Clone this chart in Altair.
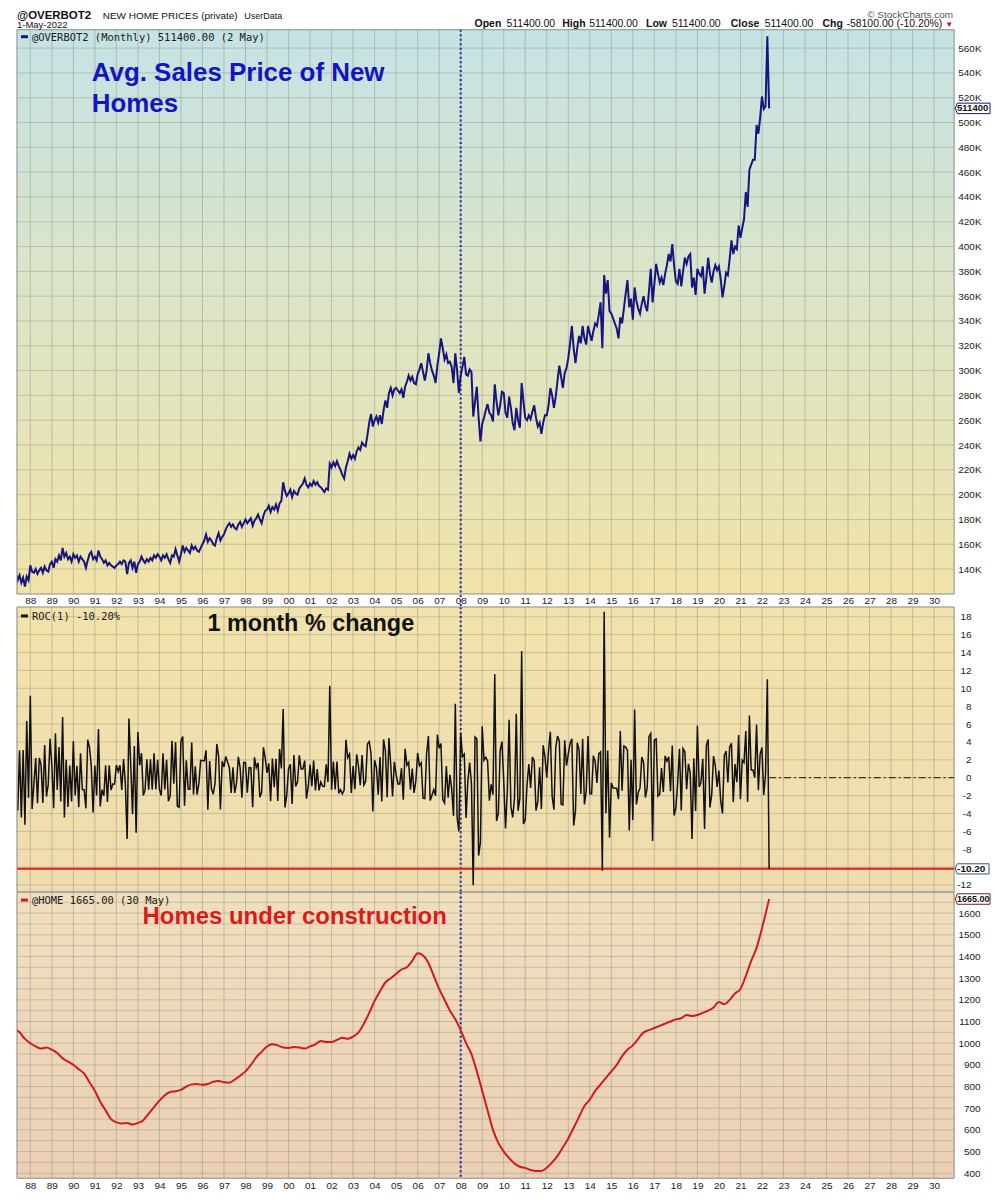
import altair as alt
import pandas as pd

# ------------------------------------------------------------------ data
# Average sales price of new homes, monthly, in thousands of $ (May 1987 .. May 2022)
price_start = 1987 + 4 / 12
price_1987_1989 = [
    136, 131, 135, 129, 133, 126, 134, 131,
    143, 138, 137, 140, 136, 139, 141, 137, 142, 139, 138, 144,
    146, 141, 148, 146, 151, 147, 157, 150, 153, 148, 150, 146,
]
price_1990s = [
    152, 149, 151, 146, 150, 148, 146, 141, 147, 152, 154, 148,
    150, 147, 155, 150, 148, 145, 147, 143, 145, 143, 142, 141,
    143, 144, 146, 144, 147, 146, 136, 145, 147, 141, 146, 137,
    144, 146, 150, 147, 145, 148, 146, 149, 147, 151, 149, 152,
    150, 147, 151, 149, 152, 148, 145, 151, 150, 156, 151, 146,
    152, 159, 154, 157, 155, 153, 159, 156, 158, 155, 154, 157,
    160, 163, 168, 162, 165, 163, 160, 159, 165, 169, 163, 166,
    168, 172, 175, 177, 174, 176, 173, 172, 176, 178, 174, 177,
    180, 177, 179, 181, 175, 179, 181, 184, 180, 177, 183, 187,
    188, 191, 186, 190, 188, 192, 187, 193, 195, 210, 203, 199,
]
price_2000s = [
    201, 204, 198, 203, 201, 200, 205, 207, 209, 213, 208, 206,
    209, 207, 211, 208, 210, 207, 206, 204, 202, 205, 204, 225,
    222, 226, 223, 227, 223, 220, 216, 213, 222, 227, 233, 229,
    232, 229, 235, 238, 236, 242, 240, 239, 248, 258, 265, 255,
    260, 263, 258, 264, 257, 268, 276, 270, 282, 286, 280, 285,
    286, 284, 282, 285, 278, 287, 291, 296, 292, 295, 290, 289,
    297, 301, 306, 299, 292, 300, 314, 306, 300, 296, 290, 304,
    314, 326, 318, 309, 313, 306, 307, 303, 290, 314, 300, 282,
    296, 303, 311, 297, 296, 301, 299, 263, 275, 287, 262, 243,
    257, 262, 268, 273, 266, 264, 259, 289, 275, 264, 272, 283,
]
price_2010s = [
    282, 266, 262, 279, 270, 258, 252, 270, 260, 254, 290, 275,
    262, 260, 264, 261, 267, 272, 262, 255, 258, 249, 258, 264,
    264, 272, 286, 280, 270, 279, 292, 304, 295, 286, 298, 302,
    310, 322, 336, 318, 306, 318, 328, 322, 336, 326, 321, 336,
    330, 324, 332, 338, 336, 345, 355, 318, 377, 362, 373, 348,
    346, 342, 338, 334, 326, 343, 338, 350, 362, 373, 351, 358,
    341, 367, 356, 350, 346, 354, 360, 352, 348, 364, 382, 355,
    370, 386, 378, 371, 375, 369, 378, 385, 394, 388, 402, 385,
    372, 370, 382, 368, 380, 391, 386, 392, 394, 367, 375, 361,
    382, 378, 376, 384, 362, 375, 391, 378, 371, 380, 385, 381,
]
price_2020s = [
    384, 374, 359, 368, 379, 377, 390, 405, 394, 400, 398, 417,
    407, 415, 422, 444, 432, 462, 466, 470, 470, 498, 491, 504,
    521, 511, 513, 569.5, 511.4,
]

# Homes under construction (thousands), quarterly from Apr 1987, plus May 2022
home_start = 1987.25
home_1987_1989 = [1065, 1050, 1020, 1000, 985, 975, 980, 970, 955, 930, 915]
home_1990s = [
    900, 880, 860, 820, 780, 730, 690, 650, 635, 630, 632, 625,
    632, 645, 675, 705, 735, 760, 775, 778, 785, 800, 810, 812,
    808, 812, 822, 826, 820, 818, 832, 850, 870, 900, 935, 960,
    985, 995, 990, 980,
]
home_2000s = [
    978, 982, 980, 975, 985, 995, 1010, 1005, 1005, 1015, 1025, 1020,
    1030, 1050, 1090, 1140, 1195, 1240, 1280, 1300, 1320, 1340, 1350, 1380,
    1415, 1405, 1370, 1310, 1250, 1200, 1150, 1110, 1060, 1000, 950, 870,
    780, 690, 600, 540,
]
home_2010s = [
    500, 470, 445, 430, 425, 415, 410, 410, 425, 450, 480, 520,
    560, 610, 660, 710, 740, 780, 810, 840, 870, 900, 940, 970,
    990, 1020, 1050, 1060, 1070, 1080, 1090, 1100, 1110, 1115, 1130, 1125,
    1130, 1140, 1150, 1165,
]
home_2020s = [1190, 1180, 1200, 1230, 1250, 1310, 1380, 1440, 1530, 1630]
home_last_t = [2022 + 4 / 12]
home_last = [1665]

year_ticks = list(range(1988, 2031))
price_ticks = list(range(140, 561, 20))
roc_grid = list(range(-12, 19, 2))
roc_ticks = [-12, -8, -6, -4, -2, 0, 2, 4, 6, 8, 10, 12, 14, 16, 18]
home_grid = list(range(400, 1651, 50))
home_ticks = list(range(400, 1601, 100))
marker_year = [2008]
roc_alert = [-10.2]
x_domain = [1987.38, 2030.93]

# ------------------------------------------------------------------ frames
prices = price_1987_1989 + price_1990s + price_2000s + price_2010s + price_2020s
price_df = pd.DataFrame({"t": [price_start + i / 12 for i in range(len(prices))], "price": prices})
roc_df = price_df.assign(roc=price_df["price"].pct_change() * 100).dropna()
home_q = home_1987_1989 + home_1990s + home_2000s + home_2010s + home_2020s
home_df = pd.DataFrame({
    "t": [home_start + 0.25 * i for i in range(len(home_q))] + home_last_t,
    "home": home_q + home_last,
})
last_price = pd.DataFrame({"v": [prices[-1]]})
last_roc = pd.DataFrame({"v": [round(float(roc_df["roc"].iloc[-1]), 2)]})
last_home = pd.DataFrame({"v": home_last})
zero_span = pd.DataFrame({"t": [price_df["t"].iloc[-1]], "t2": [x_domain[1]], "v": [0]})

# ------------------------------------------------------------------ style
FONT = "Liberation Sans"
MONO = "DejaVu Sans Mono"
W = 940
H1, H2, H3 = 566, 286, 287
GRID = "#8c8c78"
NAVY = "#15157f"
RED = "#cf1b1b"
BOX = "M-1,0 L-0.87,-0.3 L1,-0.3 L1,0.3 L-0.87,0.3 Z"
one = pd.DataFrame({"k": [0]})
xscale = alt.Scale(domain=x_domain, nice=False, zero=False)


def x_enc(field, labels):
    if labels:
        ax = alt.Axis(values=year_ticks, labelExpr="substring(toString(datum.value), 2, 4)",
                      grid=False, ticks=False, domain=False, labelFontSize=10, labelFont=FONT,
                      labelColor="#1a1a1a", labelPadding=2, labelFlush=False, labelOverlap=False)
    else:
        ax = None
    return alt.X(f"{field}:Q", scale=xscale, axis=ax, title=None)


def y_enc(field, domain, ticks, expr, pad):
    ax = alt.Axis(orient="right", values=ticks, labelExpr=expr, grid=False, ticks=False,
                  domain=False, labelAlign="right", labelPadding=pad, labelFontSize=10,
                  labelFont=FONT, labelColor="#1a1a1a", labelOverlap=False, labelFlush=False)
    return alt.Y(f"{field}:Q", scale=alt.Scale(domain=domain, nice=False, zero=False), axis=ax, title=None)


def txt(s, x, y, size, color="#111111", weight="normal", font=FONT, align="left", baseline="alphabetic"):
    return alt.Chart(one).mark_text(text=s, fontSize=size, color=color, fontWeight=weight,
                                    font=font, align=align, baseline=baseline).encode(
        x=alt.value(x), y=alt.value(y))


def htxt(s, x, y, size, color="#111111", weight="normal", align="left"):
    # header text placed by the top of its line
    return txt(s, x, y, size, color, weight, FONT, align, "top")


def background(h, stops):
    grad = alt.LinearGradient(gradient="linear", x1=0, x2=0, y1=0, y2=1,
                              stops=[alt.GradientStop(color=c, offset=o) for o, c in stops])
    return alt.Chart(one).mark_rect(fill=grad).encode(
        x=alt.value(0), x2=alt.value(W), y=alt.value(0), y2=alt.value(h))


def border(h):
    return alt.Chart(one).mark_rect(fillOpacity=0, stroke="#8a8a8a", strokeWidth=1).encode(
        x=alt.value(0), x2=alt.value(W), y=alt.value(0), y2=alt.value(h))


def grids(labels, ydom, yt, yexpr, pad, ygrid):
    v = alt.Chart(pd.DataFrame({"yr": year_ticks})).mark_rule(color=GRID, strokeWidth=1, opacity=0.45).encode(
        x=x_enc("yr", labels))
    hz = alt.Chart(pd.DataFrame({"g": ygrid})).mark_rule(color=GRID, strokeWidth=1, opacity=0.38).encode(
        y=y_enc("g", ydom, yt, yexpr, pad))
    return [v, hz]


def marker(h, labels, extra=0):
    return alt.Chart(pd.DataFrame({"yr": marker_year})).mark_rule(
        color="#2323a6", strokeWidth=2, strokeDash=[2, 2.5]).encode(
        x=x_enc("yr", labels), y=alt.value(0), y2=alt.value(h + extra))


def value_box(df, label, ydom, yt, yexpr, pad, stroke, width, size=10):
    pt = alt.Chart(df).mark_point(shape=BOX, size=width * width, filled=True, fill="white", stroke=stroke,
                                  strokeWidth=1, opacity=1).encode(
        x=alt.value(W + 1 + width / 2), y=y_enc("v", ydom, yt, yexpr, pad))
    tx = alt.Chart(df).mark_text(text=label, fontSize=size, fontWeight="bold", font=FONT, color="#111111",
                                 align="left", baseline="middle", limit=width - 1.5, ellipsis="\u200b").encode(
        x=alt.value(W + 3), y=y_enc("v", ydom, yt, yexpr, pad))
    return [pt, tx]


# ------------------------------------------------------------------ top panel
PD = [119.9, 574.8]
PEXPR = "datum.value + 'K'"
top_layers = [background(H1, [(0, "#c5e3e5"), (0.45, "#dbe4c8"), (1, "#f0e3a8")])]
top_layers += grids(True, PD, price_ticks, PEXPR, 27, price_ticks)
top_layers += [
    marker(H1, True, 14),
    alt.Chart(price_df).mark_line(color=NAVY, strokeWidth=2, clip=True).encode(
        x=x_enc("t", True), y=y_enc("price", PD, price_ticks, PEXPR, 27)),
    border(H1),
]
top_layers += value_box(last_price, "511400.0", PD, price_ticks, PEXPR, 27, NAVY, 35, 9.5)
top_layers += [
    alt.Chart(one).mark_rule(color=NAVY, strokeWidth=3).encode(
        x=alt.value(4), x2=alt.value(11), y=alt.value(7)),
    txt("@OVERBOT2 (Monthly) 511400.00 (2 May)", 15, 11, 10.5, "#1a1a1a", font=MONO),
    txt("Avg. Sales Price of New", 75, 51.5, 26, "#1414c4", "bold"),
    txt("Homes", 75, 83, 26, "#1414c4", "bold"),
    # header above the panel
    htxt("@OVERBOT2", 0, -20, 11.5, "#111111", "bold"),
    htxt("NEW HOME PRICES (private)", 86, -19.0, 10),
    htxt("UserData", 228, -18.2, 9),
    txt("1-May-2022", 0, -1.3, 9.5),
    htxt("\u00a9 StockCharts.com", 939, -20, 10, "#555555", align="right"),
    txt("Open", 459, -2.3, 10.5, weight="bold"),
    txt("511400.00", 491, -2.3, 10.5),
    txt("High", 547, -2.3, 10.5, weight="bold"),
    txt("511400.00", 574, -2.3, 10.5),
    txt("Low", 631, -2.3, 10.5, weight="bold"),
    txt("511400.00", 657, -2.3, 10.5),
    txt("Close", 716, -2.3, 10.5, weight="bold"),
    txt("511400.00", 750, -2.3, 10.5),
    txt("Chg", 808, -2.3, 10.5, weight="bold"),
    txt("-58100.00 (-10.20%)", 832, -2.3, 10.5),
    txt("\u25bc", 931, -2.8, 8, "#b01818"),
]
top = alt.layer(*top_layers).properties(width=W, height=H1)

# ------------------------------------------------------------------ middle panel
RD = [-12.8, 19.1]
REXPR = "datum.value"
mid_layers = [background(H2, [(0, "#f2e2ab"), (1, "#f0dcaf")])]
mid_layers += grids(False, RD, roc_ticks, REXPR, 17, roc_grid)
mid_layers += [
    marker(H2, False),
    alt.Chart(pd.DataFrame({"v": roc_alert})).mark_rule(color="#e0200f", strokeWidth=2).encode(
        y=y_enc("v", RD, roc_ticks, REXPR, 17)),
    alt.Chart(zero_span).mark_rule(color="#111111", strokeWidth=1, strokeDash=[7, 3, 2, 3]).encode(
        x=x_enc("t", False), x2="t2:Q", y=y_enc("v", RD, roc_ticks, REXPR, 17)),
    alt.Chart(roc_df).mark_line(color="#111111", strokeWidth=1.5, clip=True).encode(
        x=x_enc("t", False), y=y_enc("roc", RD, roc_ticks, REXPR, 17)),
    border(H2),
]
mid_layers += value_box(last_roc, "-10.20", RD, roc_ticks, REXPR, 17, "#335577", 34, 10)
mid_layers += [
    alt.Chart(one).mark_rule(color="#111111", strokeWidth=3).encode(
        x=alt.value(4), x2=alt.value(11), y=alt.value(9)),
    txt("ROC(1) -10.20%", 15, 13, 10.5, "#1a1a1a", font=MONO),
    txt("1 month % change", 191, 24, 23.5, "#111111", "bold"),
]
mid = alt.layer(*mid_layers).properties(width=W, height=H2)

# ------------------------------------------------------------------ bottom panel
HD = [377, 1697]
HEXPR = "datum.value"
bot_layers = [background(H3, [(0, "#f0dfbf"), (1, "#ebcfb6")])]
bot_layers += grids(True, HD, home_ticks, HEXPR, 26, home_grid)
bot_layers += [
    marker(H3, True),
    alt.Chart(home_df).mark_line(color=RED, strokeWidth=2, clip=True, interpolate="monotone").encode(
        x=x_enc("t", True), y=y_enc("home", HD, home_ticks, HEXPR, 26)),
    border(H3),
]
bot_layers += value_box(last_home, "1665.00", HD, home_ticks, HEXPR, 26, "#6a2020", 35, 9)
bot_layers += [
    alt.Chart(one).mark_rule(color=RED, strokeWidth=3).encode(
        x=alt.value(4), x2=alt.value(11), y=alt.value(8)),
    txt("@HOME 1665.00 (30 May)", 15, 11.5, 10.5, "#1a1a1a", font=MONO),
    txt("Homes under construction", 126, 31.5, 24, "#dd1a1a", "bold"),
]
bot = alt.layer(*bot_layers).properties(width=W, height=H3)

chart = alt.vconcat(
    top,
    alt.vconcat(mid, bot, spacing=0, bounds="flush"),
    spacing=13,
    bounds="flush",
).properties(
    padding={"left": 8, "top": 0, "right": 0, "bottom": 0}
).configure_view(strokeWidth=0)

chart.save("out.html", embed_options={"renderer": "svg", "actions": False})
